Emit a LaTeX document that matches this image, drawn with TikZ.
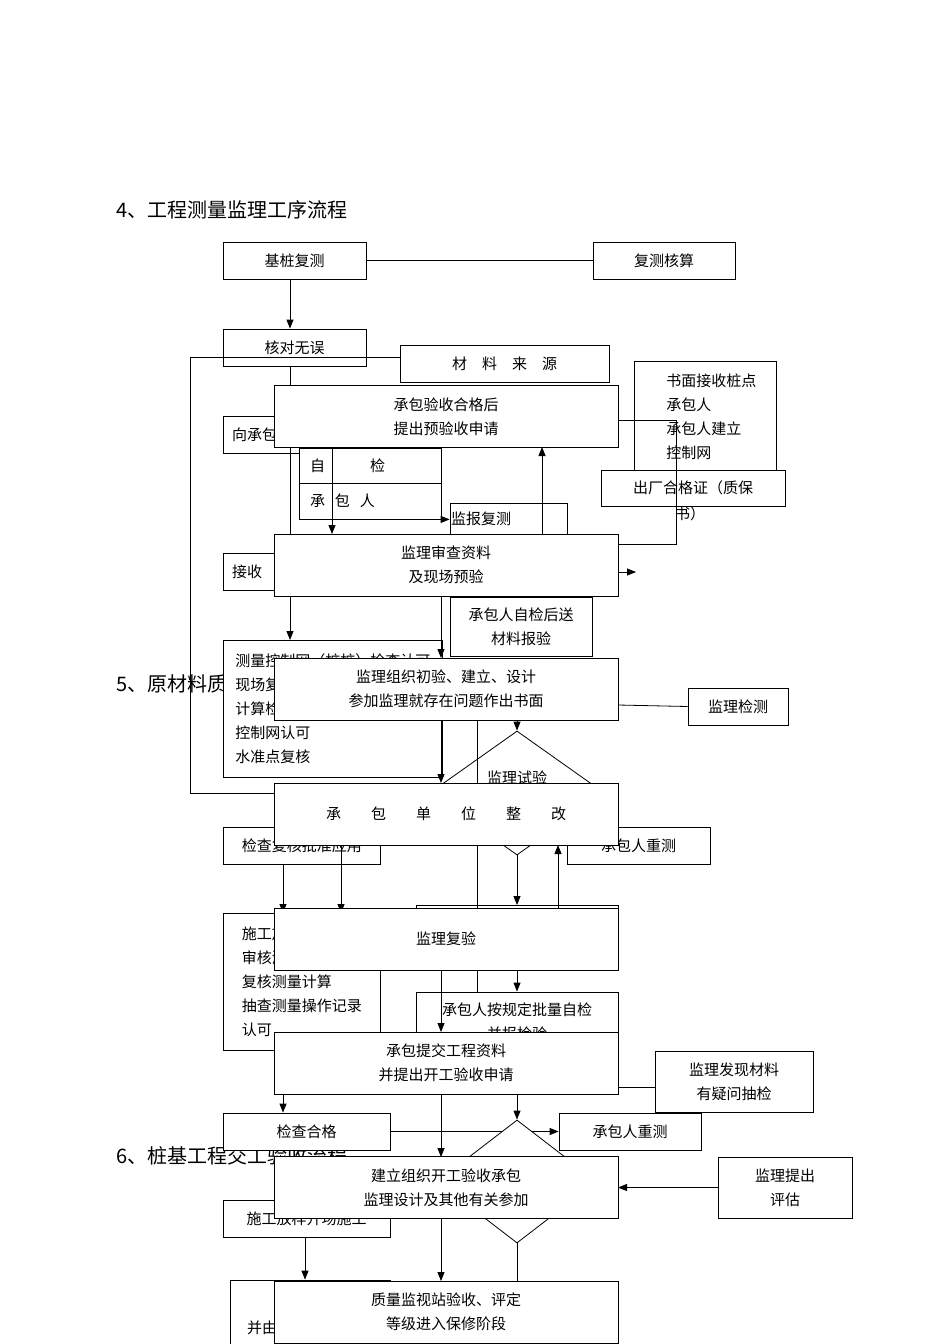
\documentclass[tikz,border=0pt]{standalone}
\usepackage{fontspec}
\setmainfont{Noto Sans CJK SC}
\usetikzlibrary{arrows.meta,shapes.geometric}

\tikzset{
	box/.style={draw,fill=white,inner sep=0pt,align=center,font=\fontsize{15}{24}\selectfont},
	lbox/.style={draw,fill=white,inner sep=0pt,inner xsep=12pt,align=left,anchor=north west,font=\fontsize{15}{24}\selectfont},
	big/.style={box,minimum width=344pt,minimum height=62pt},
	arr/.style={-{Triangle[length=9pt,width=7pt]}},
	head/.style={anchor=west,font=\fontsize{20}{24}\selectfont}
}

\begin{document}
\begin{tikzpicture}[x=1pt,y=-1pt,line width=0.8pt]
	\useasboundingbox (0,0) rectangle (950,1344);

	% headings
	\node[head] (h4) at (113,210) {4、工程测量监理工序流程};
	\node[head] (h5) at (113,684) {5、原材料质量监理工序流程};
	\node[head] (h6) at (113,1156) {6、桩基工程交工验收流程};

	% survey chart (back)
	\node[box,minimum width=143pt,minimum height=37pt] (jz) at (294.5,260.5) {基桩复测};
	\node[box,minimum width=142pt,minimum height=37pt] (fc) at (664,260.5) {复测核算};
	\draw (jz) -- (fc);
	\node[box,minimum width=143pt,minimum height=37pt,text depth=-6pt] (hd) at (294.5,347.5) {核对无误};
	\draw[arr] (290,0 |- jz.south) -- (290,0 |- hd.north);
	\coordinate (lt) at (190,357);
	\coordinate (lb) at (190,793);
	\node[box,minimum width=143pt,minimum height=37pt,align=left,text width=125pt] (xc) at (294.5,434.5) {向承包人};
	\node[box,minimum width=143pt,minimum height=37pt,align=left,text width=125pt] (js) at (294.5,571.5) {接收};
	\draw[arr] (290,0 |- hd.south) -- (290,640);
	\node[lbox,minimum width=217pt,minimum height=137pt] (kz) at (223,640) {测量控制网（桩桩）检查认可\\现场复测\\计算检查\\控制网认可\\水准点复核};
	\node[lbox,minimum width=157pt,minimum height=37pt] (jc) at (223,827) {检查复核批准应用};
	\node[lbox,minimum width=157pt,minimum height=137pt] (sg) at (223,913) {施工放样\\审核测量\\复核测量计算\\抽查测量操作记录\\认可};
	\draw[arr] (283,0 |- jc.south) -- (283,0 |- sg.north);
	\draw[arr] (341,845) -- (341,0 |- sg.north);
	\node[box,minimum width=167pt,minimum height=37pt] (hg) at (306.5,1131.5) {检查合格};
	\node[box,minimum width=167pt,minimum height=37pt] (fy) at (306.5,1218.5) {施工放样开场施工};
	\node[draw,fill=white,minimum width=160pt,minimum height=64pt,inner sep=0pt] (bl) at (310,1312) {};
	\node[font=\fontsize{15}{24}\selectfont] (blt) at (262,1328) {并由};
	\draw[arr] (283,1094) -- (283,0 |- hg.north);
	\draw[arr] (305,0 |- fy.south) -- (305,0 |- bl.north);

	% materials chart (back)
	\node[box,minimum width=209pt,minimum height=37pt] (ly) at (504.5,363.5) {材\quad 料\quad 来\quad 源};
	\draw (lt) -- (ly.west |- lt);
	\draw (lt) -- (lb) -- (274,793);
	\node[lbox,minimum width=142pt,minimum height=109pt,inner xsep=0pt,text depth=0pt] (sm) at (634,361) {\hspace{12pt}书面接收桩点\\\hspace{12pt}承包人\\\hspace{12pt}承包人建立\\\hspace{12pt}控制网};
	\node[box,minimum width=184pt,minimum height=36pt] (cc) at (693,488) {出厂合格证（质保};
	\node[font=\fontsize{15}{24}\selectfont] (cs) at (690,514) {书）};
	\coordinate (rk) at (676,420);
	\draw (618,420) -- (rk) -- (676,544) -- (618,544);
	\node[box,minimum width=142pt,minimum height=35pt,align=left,text width=120pt] (zj) at (370,465.5) {自\qquad\quad 检};
	\node[box,minimum width=142pt,minimum height=36pt,align=left,text width=120pt] (cb) at (370,501) {承\ \ 包\ \ 人};
	\node[box,minimum width=117pt,minimum height=31pt,align=left,text width=115pt] (bf) at (508.5,518.5) {监报复测};
	\draw[arr] (cb.south east) -- (bf.west |- cb.south east);
	\draw (299,448) -- (299,0 |- cb.south);
	\draw[arr] (332,448) -- (332,534);
	\draw[arr] (542,534) -- (542,447);
	\draw[arr] (618,572) -- (636,572);
	\node[box,minimum width=142pt,minimum height=59pt] (bj) at (521,626.5) {承包人自检后送\\材料报验};
	\draw[arr] (441,596) -- (441,658);
	\node[box,minimum width=100pt,minimum height=37pt] (jcz) at (738,706.5) {监理检测};
	\draw (618,705) -- (jcz.west);
	\node[diamond,draw,fill=white,minimum width=175pt,minimum height=124pt,inner sep=0pt] (sy) at (517,793) {};
	\node[font=\fontsize{15}{24}\selectfont] at (517,778) {监理试验};
	\draw[arr] (517,720) -- (sy.north);
	\draw (477,720) -- (477,908);
	\draw[arr] (441,720) -- (441,783);
	\node[box,minimum width=143pt,minimum height=37pt] (cz) at (638.5,845.5) {承包人重测};
	\draw[arr] (sy.south) -- (517,905);
	\draw[arr] (558,908) -- (558,845);
	\draw (416,905) rectangle (618,930);
	\node[box,minimum width=202pt,minimum height=58pt,text depth=-14pt] (pl) at (517,1021) {承包人按规定批量自检\\并报检验};
	\draw (477,970) -- (477,0 |- pl.north);
	\draw[arr] (517,970) -- (517,0 |- pl.north);
	\draw[arr] (441,970) -- (441,1032);
	\node[box,minimum width=158pt,minimum height=61pt] (yw) at (734,1081.5) {监理发现材料\\有疑问抽检};
	\draw (618,1087) -- (yw.west |- 618,1087);
	\node[box,minimum width=142pt,minimum height=37pt] (cz2) at (630,1131.5) {承包人重测};
	\draw[arr] (hg.east) -- (cz2.west);
	\node[diamond,draw,fill=white,minimum width=160pt,minimum height=123pt,inner sep=0pt] (ys) at (517,1181.5) {};
	\draw[arr] (517,1094) -- (ys.north);
	\draw[arr] (441,1094) -- (441,1157);
	\node[box,minimum width=134pt,minimum height=61pt] (pg) at (785,1187.5) {监理提出\\评估};
	\draw[arr] (pg.west) -- (618,0 |- pg.west);
	\draw[arr] (441,1218) -- (441,1281);
	\draw (ys.south) -- (517,1281);

	% main boxes (front)
	\node[big] (ys1) at (446,416.5) {承包验收合格后\\提出预验收申请};
	\node[big] (sc) at (446,565) {监理审查资料\\及现场预验};
	\node[big] (cy) at (446,689) {监理组织初验、建立、设计\\参加监理就存在问题作出书面};
	\node[big] (zg) at (446,814) {承\qquad 包\qquad 单\qquad 位\qquad 整\qquad 改};
	\node[big] (fy2) at (446,939) {监理复验};
	\node[big] (tj) at (446,1063) {承包提交工程资料\\并提出开工验收申请};
	\node[big] (kg) at (446,1187.5) {建立组织开工验收承包\\监理设计及其他有关参加};
	\node[big] (zl) at (446,1312) {质量监视站验收、评定\\等级进入保修阶段};

\end{tikzpicture}
\end{document}
